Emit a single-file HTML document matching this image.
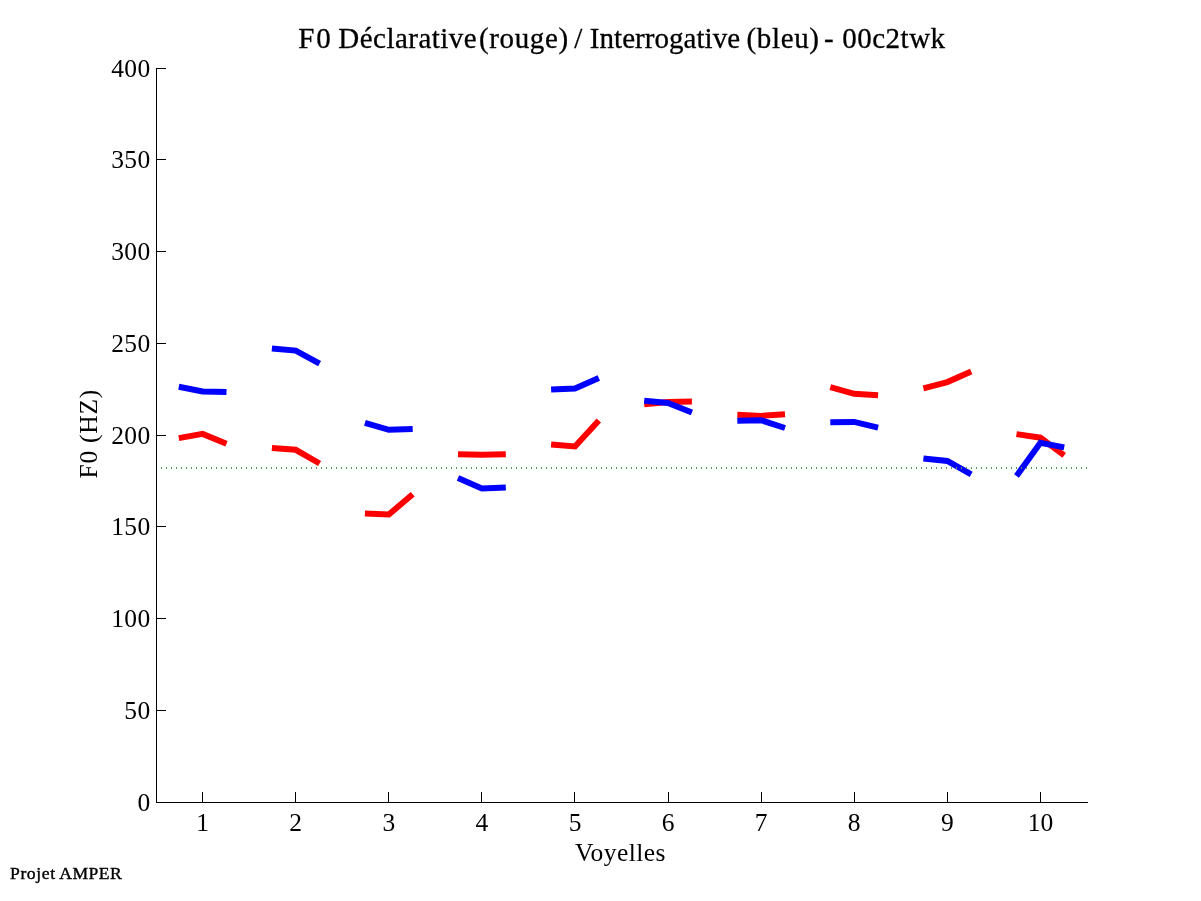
<!DOCTYPE html>
<html><head><meta charset="utf-8"><style>
html,body{margin:0;padding:0;background:#fff;width:1201px;height:901px;overflow:hidden}
svg{display:block;will-change:transform}
text{font-family:"Liberation Serif",serif;fill:#000}
.t{stroke:#000;stroke-width:0.3px}
</style></head><body>
<svg width="1201" height="901" viewBox="0 0 1201 901">
<rect width="1201" height="901" fill="#fff"/>
<g shape-rendering="crispEdges" fill="#000">
<rect x="156" y="68" width="1" height="735"/>
<rect x="156" y="802" width="932" height="1"/>
<rect x="157" y="802" width="9" height="1"/>
<rect x="157" y="710" width="9" height="1"/>
<rect x="157" y="618" width="9" height="1"/>
<rect x="157" y="526" width="9" height="1"/>
<rect x="157" y="435" width="9" height="1"/>
<rect x="157" y="343" width="9" height="1"/>
<rect x="157" y="251" width="9" height="1"/>
<rect x="157" y="159" width="9" height="1"/>
<rect x="157" y="68" width="9" height="1"/>
<rect x="202" y="792" width="1" height="10"/>
<rect x="295" y="792" width="1" height="10"/>
<rect x="388" y="792" width="1" height="10"/>
<rect x="481" y="792" width="1" height="10"/>
<rect x="574" y="792" width="1" height="10"/>
<rect x="668" y="792" width="1" height="10"/>
<rect x="761" y="792" width="1" height="10"/>
<rect x="854" y="792" width="1" height="10"/>
<rect x="947" y="792" width="1" height="10"/>
<rect x="1040" y="792" width="1" height="10"/>
</g>
<rect x="158" y="465" width="930" height="6" fill="rgb(248,254,248)" shape-rendering="crispEdges"/>
<polyline points="178.8,438.1 202.6,433.9 226.5,443.8" fill="none" stroke="#f00" stroke-width="6" stroke-linejoin="miter"/>
<polyline points="271.9,447.9 295.7,449.8 319.6,463.5" fill="none" stroke="#f00" stroke-width="6" stroke-linejoin="miter"/>
<polyline points="364.9,513.5 388.8,514.5 412.7,494.3" fill="none" stroke="#f00" stroke-width="6" stroke-linejoin="miter"/>
<polyline points="458.0,454.3 481.9,454.8 505.8,454.3" fill="none" stroke="#f00" stroke-width="6" stroke-linejoin="miter"/>
<polyline points="551.1,444.5 575.0,446.5 598.8,420.5" fill="none" stroke="#f00" stroke-width="6" stroke-linejoin="miter"/>
<polyline points="644.2,404.2 668.0,401.9 691.9,401.4" fill="none" stroke="#f00" stroke-width="6" stroke-linejoin="miter"/>
<polyline points="737.3,414.7 761.1,415.9 785.0,414.3" fill="none" stroke="#f00" stroke-width="6" stroke-linejoin="miter"/>
<polyline points="830.3,387.1 854.2,393.8 878.1,395.2" fill="none" stroke="#f00" stroke-width="6" stroke-linejoin="miter"/>
<polyline points="923.4,388.3 947.3,382.1 971.2,371.4" fill="none" stroke="#f00" stroke-width="6" stroke-linejoin="miter"/>
<polyline points="1016.5,434.1 1040.4,437.7 1064.2,455.4" fill="none" stroke="#f00" stroke-width="6" stroke-linejoin="miter"/>
<polyline points="178.8,386.7 202.6,391.4 226.5,392.0" fill="none" stroke="#00f" stroke-width="6" stroke-linejoin="miter"/>
<polyline points="271.9,348.4 295.7,350.6 319.6,363.6" fill="none" stroke="#00f" stroke-width="6" stroke-linejoin="miter"/>
<polyline points="364.9,422.8 388.8,429.8 412.7,428.9" fill="none" stroke="#00f" stroke-width="6" stroke-linejoin="miter"/>
<polyline points="458.0,478.1 481.9,488.5 505.8,487.5" fill="none" stroke="#00f" stroke-width="6" stroke-linejoin="miter"/>
<polyline points="551.1,389.5 575.0,388.5 598.8,378.0" fill="none" stroke="#00f" stroke-width="6" stroke-linejoin="miter"/>
<polyline points="644.2,400.7 668.0,403.0 691.9,412.5" fill="none" stroke="#00f" stroke-width="6" stroke-linejoin="miter"/>
<polyline points="737.3,420.8 761.1,420.2 785.0,428.0" fill="none" stroke="#00f" stroke-width="6" stroke-linejoin="miter"/>
<polyline points="830.3,422.3 854.2,421.9 878.1,427.7" fill="none" stroke="#00f" stroke-width="6" stroke-linejoin="miter"/>
<polyline points="923.4,458.4 947.3,461.0 971.2,474.4" fill="none" stroke="#00f" stroke-width="6" stroke-linejoin="miter"/>
<polyline points="1016.5,476.0 1040.4,442.7 1064.2,447.4" fill="none" stroke="#00f" stroke-width="6" stroke-linejoin="miter"/>
<path d="M161 467h1v2h-1zM166 467h1v2h-1zM171 467h1v2h-1zM176 467h1v2h-1zM181 467h1v2h-1zM186 467h1v2h-1zM191 467h1v2h-1zM196 467h1v2h-1zM201 467h1v2h-1zM206 467h1v2h-1zM211 467h1v2h-1zM216 467h1v2h-1zM221 467h1v2h-1zM226 467h1v2h-1zM231 467h1v2h-1zM236 467h1v2h-1zM241 467h1v2h-1zM246 467h1v2h-1zM251 467h1v2h-1zM256 467h1v2h-1zM261 467h1v2h-1zM266 467h1v2h-1zM271 467h1v2h-1zM276 467h1v2h-1zM281 467h1v2h-1zM286 467h1v2h-1zM291 467h1v2h-1zM296 467h1v2h-1zM301 467h1v2h-1zM306 467h1v2h-1zM311 467h1v2h-1zM316 467h1v2h-1zM321 467h1v2h-1zM326 467h1v2h-1zM331 467h1v2h-1zM336 467h1v2h-1zM341 467h1v2h-1zM346 467h1v2h-1zM351 467h1v2h-1zM356 467h1v2h-1zM361 467h1v2h-1zM366 467h1v2h-1zM371 467h1v2h-1zM376 467h1v2h-1zM381 467h1v2h-1zM386 467h1v2h-1zM391 467h1v2h-1zM396 467h1v2h-1zM401 467h1v2h-1zM406 467h1v2h-1zM411 467h1v2h-1zM416 467h1v2h-1zM421 467h1v2h-1zM426 467h1v2h-1zM431 467h1v2h-1zM436 467h1v2h-1zM441 467h1v2h-1zM446 467h1v2h-1zM451 467h1v2h-1zM456 467h1v2h-1zM461 467h1v2h-1zM466 467h1v2h-1zM471 467h1v2h-1zM476 467h1v2h-1zM481 467h1v2h-1zM486 467h1v2h-1zM491 467h1v2h-1zM496 467h1v2h-1zM501 467h1v2h-1zM506 467h1v2h-1zM511 467h1v2h-1zM516 467h1v2h-1zM521 467h1v2h-1zM526 467h1v2h-1zM531 467h1v2h-1zM536 467h1v2h-1zM541 467h1v2h-1zM546 467h1v2h-1zM551 467h1v2h-1zM556 467h1v2h-1zM561 467h1v2h-1zM566 467h1v2h-1zM571 467h1v2h-1zM576 467h1v2h-1zM581 467h1v2h-1zM586 467h1v2h-1zM591 467h1v2h-1zM596 467h1v2h-1zM601 467h1v2h-1zM606 467h1v2h-1zM611 467h1v2h-1zM616 467h1v2h-1zM621 467h1v2h-1zM626 467h1v2h-1zM631 467h1v2h-1zM636 467h1v2h-1zM641 467h1v2h-1zM646 467h1v2h-1zM651 467h1v2h-1zM656 467h1v2h-1zM661 467h1v2h-1zM666 467h1v2h-1zM671 467h1v2h-1zM676 467h1v2h-1zM681 467h1v2h-1zM686 467h1v2h-1zM691 467h1v2h-1zM696 467h1v2h-1zM701 467h1v2h-1zM706 467h1v2h-1zM711 467h1v2h-1zM716 467h1v2h-1zM721 467h1v2h-1zM726 467h1v2h-1zM731 467h1v2h-1zM736 467h1v2h-1zM741 467h1v2h-1zM746 467h1v2h-1zM751 467h1v2h-1zM756 467h1v2h-1zM761 467h1v2h-1zM766 467h1v2h-1zM771 467h1v2h-1zM776 467h1v2h-1zM781 467h1v2h-1zM786 467h1v2h-1zM791 467h1v2h-1zM796 467h1v2h-1zM801 467h1v2h-1zM806 467h1v2h-1zM811 467h1v2h-1zM816 467h1v2h-1zM821 467h1v2h-1zM826 467h1v2h-1zM831 467h1v2h-1zM836 467h1v2h-1zM841 467h1v2h-1zM846 467h1v2h-1zM851 467h1v2h-1zM856 467h1v2h-1zM861 467h1v2h-1zM866 467h1v2h-1zM871 467h1v2h-1zM876 467h1v2h-1zM881 467h1v2h-1zM886 467h1v2h-1zM891 467h1v2h-1zM896 467h1v2h-1zM901 467h1v2h-1zM906 467h1v2h-1zM911 467h1v2h-1zM916 467h1v2h-1zM921 467h1v2h-1zM926 467h1v2h-1zM931 467h1v2h-1zM936 467h1v2h-1zM941 467h1v2h-1zM946 467h1v2h-1zM951 467h1v2h-1zM956 467h1v2h-1zM961 467h1v2h-1zM966 467h1v2h-1zM971 467h1v2h-1zM976 467h1v2h-1zM981 467h1v2h-1zM986 467h1v2h-1zM991 467h1v2h-1zM996 467h1v2h-1zM1001 467h1v2h-1zM1006 467h1v2h-1zM1011 467h1v2h-1zM1016 467h1v2h-1zM1021 467h1v2h-1zM1026 467h1v2h-1zM1031 467h1v2h-1zM1036 467h1v2h-1zM1041 467h1v2h-1zM1046 467h1v2h-1zM1051 467h1v2h-1zM1056 467h1v2h-1zM1061 467h1v2h-1zM1066 467h1v2h-1zM1071 467h1v2h-1zM1076 467h1v2h-1zM1081 467h1v2h-1zM1086 467h1v2h-1z" fill="rgb(100,140,100)" shape-rendering="crispEdges"/>
<text x="150.6" y="810.8" text-anchor="end" font-size="25.5" letter-spacing="0.4">0</text>
<text x="150.6" y="718.8" text-anchor="end" font-size="25.5" letter-spacing="0.4">50</text>
<text x="150.6" y="626.8" text-anchor="end" font-size="25.5" letter-spacing="0.4">100</text>
<text x="150.6" y="534.8" text-anchor="end" font-size="25.5" letter-spacing="0.4">150</text>
<text x="150.6" y="443.8" text-anchor="end" font-size="25.5" letter-spacing="0.4">200</text>
<text x="150.6" y="351.8" text-anchor="end" font-size="25.5" letter-spacing="0.4">250</text>
<text x="150.6" y="259.8" text-anchor="end" font-size="25.5" letter-spacing="0.4">300</text>
<text x="150.6" y="167.8" text-anchor="end" font-size="25.5" letter-spacing="0.4">350</text>
<text x="150.6" y="76.8" text-anchor="end" font-size="25.5" letter-spacing="0.4">400</text>
<text x="202.6" y="831" text-anchor="middle" font-size="25.5">1</text>
<text x="295.7" y="831" text-anchor="middle" font-size="25.5">2</text>
<text x="388.8" y="831" text-anchor="middle" font-size="25.5">3</text>
<text x="481.9" y="831" text-anchor="middle" font-size="25.5">4</text>
<text x="575.0" y="831" text-anchor="middle" font-size="25.5">5</text>
<text x="668.0" y="831" text-anchor="middle" font-size="25.5">6</text>
<text x="761.1" y="831" text-anchor="middle" font-size="25.5">7</text>
<text x="854.2" y="831" text-anchor="middle" font-size="25.5">8</text>
<text x="947.3" y="831" text-anchor="middle" font-size="25.5">9</text>
<text x="1040.4" y="831" text-anchor="middle" font-size="25.5">10</text>
<text class="t" x="298.3" y="47.5" font-size="29" letter-spacing="1.7">F0</text>
<text class="t" x="338.3" y="47.5" font-size="29" letter-spacing="0.47">Déclarative</text>
<text class="t" x="479" y="47.5" font-size="29" letter-spacing="0.633">(rouge)</text>
<text class="t" x="574.2" y="47.5" font-size="29" letter-spacing="0">/</text>
<text class="t" x="589.8" y="47.5" font-size="29" letter-spacing="0.042">Interrogative</text>
<text class="t" x="746.5" y="47.5" font-size="29" letter-spacing="0.64">(bleu)</text>
<text class="t" x="824" y="47.5" font-size="29" letter-spacing="0">-</text>
<text class="t" x="842.3" y="47.5" font-size="29" letter-spacing="0.483">00c2twk</text>
<text x="575" y="860.5" font-size="25.5" letter-spacing="0.429">Voyelles</text>
<text transform="translate(96.8 478.4) rotate(-90)" x="0" y="0" font-size="25.5" letter-spacing="0.733">F0 (HZ)</text>
<text class="t" style="stroke-width:0.4px" x="10" y="878.8" font-size="17.6" letter-spacing="0.6">Projet</text>
<text class="t" style="stroke-width:0.4px" x="59.3" y="878.8" font-size="17.6" letter-spacing="0.425">AMPER</text>
</svg>
</body></html>
